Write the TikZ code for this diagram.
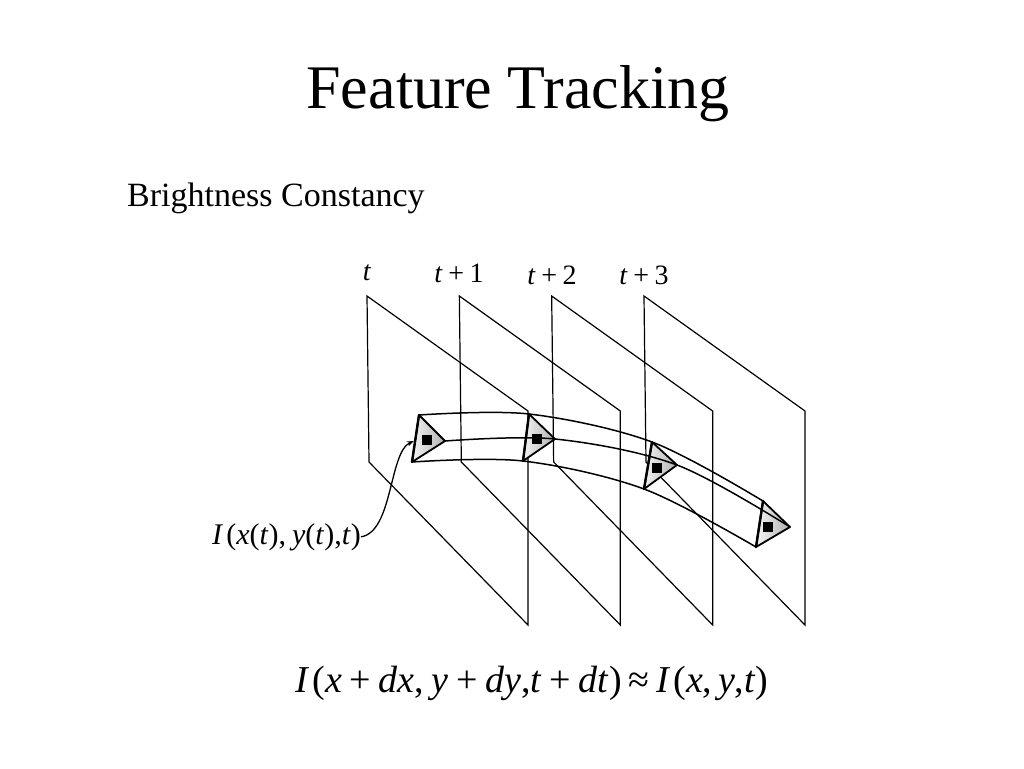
\documentclass[tikz,border=0pt]{standalone}
\usepackage{fontspec}
\setmainfont{Liberation Serif}
\usetikzlibrary{arrows.meta}
\newcommand{\pl}{\hspace{0.2em}+\hspace{0.2em}}
\begin{document}
\begin{tikzpicture}[x=1pt,y=-1pt,
  frameline/.style={line width=1.2pt, line join=miter},
  tube/.style={line width=1.5pt},
  tri/.style={draw=black, line width=1.8pt, line join=round, left color=gray!8, right color=gray!62},
  sq/.style={fill=black},
  lbl/.style={inner sep=0pt, anchor=base}]
\useasboundingbox (0,0) rectangle (1024,768);
\fill[white] (0,0) rectangle (1024,768);

% title and heading
\node[lbl] (title) at (518,108) {\fontsize{62}{70}\selectfont Feature Tracking};
\node[lbl, anchor=base west] (head) at (127,206) {\fontsize{34}{40}\selectfont Brightness Constancy};

% frames
\foreach \i in {0,...,3}{
  \pgfmathsetmacro\d{92.33*\i}
  \coordinate (f\i tl) at (367+\d,296);
  \coordinate (f\i bl) at (369+\d,462);
  \coordinate (f\i br) at (528+\d,625);
  \coordinate (f\i tr) at (528+\d,411);
  \draw[frameline] (f\i tl) -- (f\i bl) -- (f\i br) -- (f\i tr) -- cycle;
}

% frame labels
\node[lbl] (l0) at (367,280) {\fontsize{28}{32}\selectfont\textit{t}};
\node[lbl] (l1) at (459,282) {\fontsize{28}{32}\selectfont\textit{t}\pl 1};
\node[lbl] (l2) at (552,284) {\fontsize{28}{32}\selectfont\textit{t}\pl 2};
\node[lbl] (l3) at (644,284) {\fontsize{28}{32}\selectfont\textit{t}\pl 3};

% triangle vertices
\coordinate (a1) at (419,415); \coordinate (b1) at (445,441); \coordinate (c1) at (412,462); \coordinate (s1) at (427,440);
\coordinate (a2) at (529,414); \coordinate (b2) at (555,439); \coordinate (c2) at (523,461); \coordinate (s2) at (537,439);
\coordinate (a3) at (652,442); \coordinate (b3) at (677,465); \coordinate (c3) at (644,489); \coordinate (s3) at (657,468);
\coordinate (a4) at (763,501); \coordinate (b4) at (790,527); \coordinate (c4) at (756,547); \coordinate (s4) at (768,527);

% tube outer curves
\draw[tube] plot[smooth, tension=0.55] coordinates {(a1) (a2) (a3) (a4)};
\draw[tube] plot[smooth, tension=0.55] coordinates {(c1) (c2) (c3) (c4)};

% triangles
\foreach \k in {1,...,4}{
  \shade[tri] (a\k) -- (b\k) -- (c\k) -- cycle;
  \draw[line width=2.4pt, line cap=round] (a\k) -- (c\k);
}

% middle curve
\draw[tube] plot[smooth, tension=0.55] coordinates {(b1) (b2) (b3) (b4)};

% feature points
\foreach \k in {1,...,4}{
  \fill[sq] (s\k) ++(-5,-5) rectangle ++(10,10);
}

% label and arrow
\node[inner sep=0pt, anchor=base west] (ilbl) at (212,544) {\fontsize{30}{34}\selectfont\textit{I}\hspace{0.1em}(\textit{x}(\textit{t}),\hspace{0.2em}\textit{y}(\textit{t}),\textit{t})};
\draw[line width=1.3pt, -{Stealth[length=7pt,width=5pt]}] (ilbl.east) .. controls (393,532) and (389,452) .. (414,441);

% equation
\node[lbl] (eq) at (532,692) {\fontsize{38}{44}\selectfont\textit{I}\hspace{0.08em}(\textit{x}\pl\textit{dx},\hspace{0.2em}\textit{y}\pl\textit{dy},\textit{t}\pl\textit{dt})\hspace{0.18em}≈\hspace{0.18em}\textit{I}\hspace{0.08em}(\textit{x},\hspace{0.15em}\textit{y},\textit{t})};
\end{tikzpicture}
\end{document}
